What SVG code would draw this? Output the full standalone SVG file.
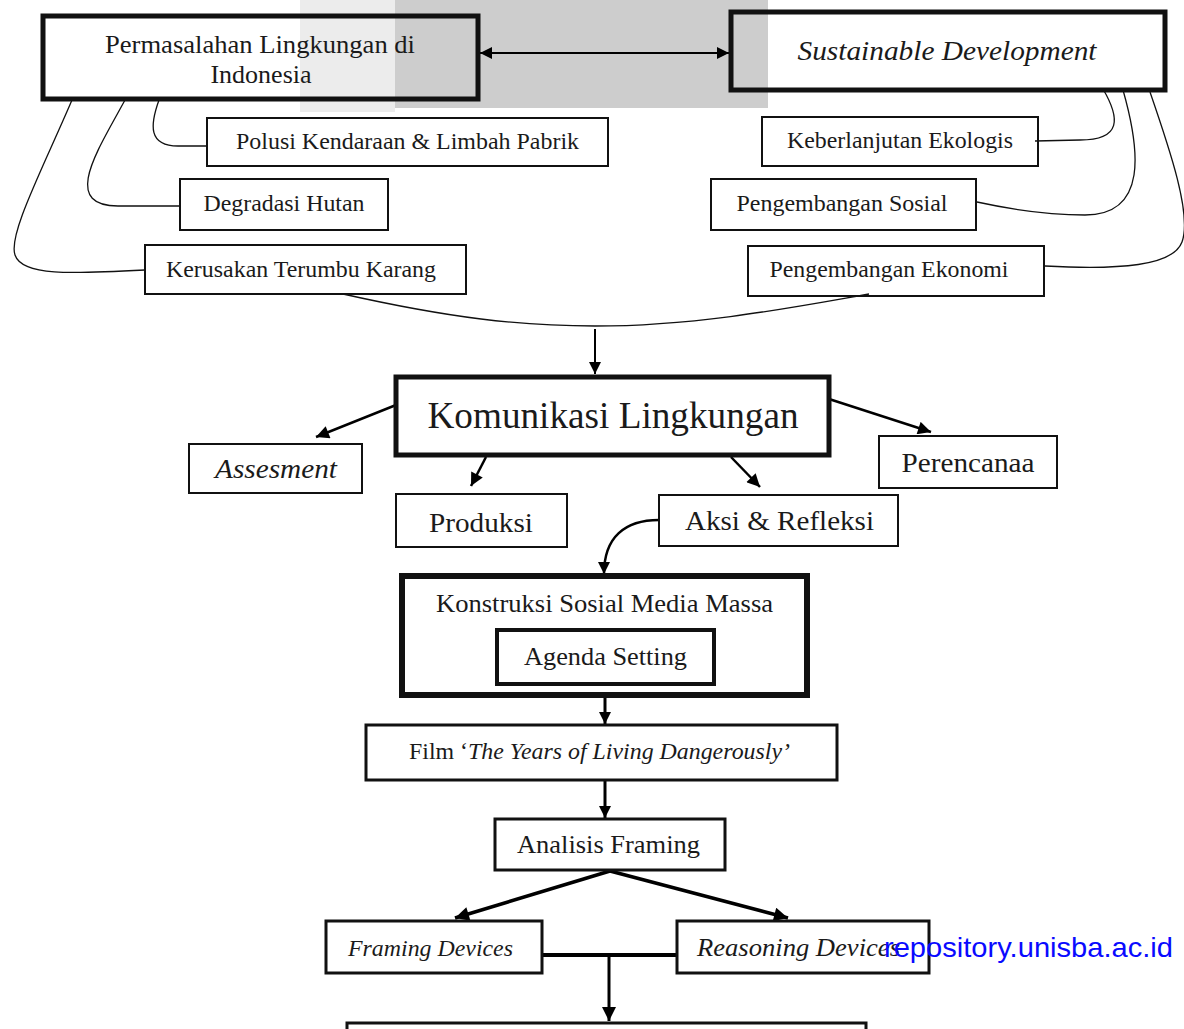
<svg xmlns="http://www.w3.org/2000/svg" width="1184" height="1029" viewBox="0 0 1184 1029">
<defs>
<style>
text{font-family:"Liberation Serif","Times New Roman",serif;fill:#1a1a1a}
.it{font-style:italic}
.box{fill:none;stroke:#111}
.b2{stroke-width:2}
.b3{stroke-width:3}
.b4{stroke-width:4}
.b5{stroke-width:5}
.b6{stroke-width:6}
.c{fill:none;stroke:#111;stroke-width:1.3}
.a{fill:none;stroke:#000}
.wm{font-family:"Liberation Sans",Arial,sans-serif;fill:#0a0aff}
</style>
<marker id="ah" viewBox="0 0 10 10" refX="10" refY="5" markerWidth="14" markerHeight="12" markerUnits="userSpaceOnUse" orient="auto-start-reverse">
<path d="M0,0 L10,5 L0,10 Z" fill="#000"/>
</marker>
<marker id="ahm" viewBox="0 0 10 10" refX="10" refY="5" markerWidth="15" markerHeight="13" markerUnits="userSpaceOnUse" orient="auto-start-reverse">
<path d="M0,0 L10,5 L0,10 Z" fill="#000"/>
</marker>
<marker id="ahb" viewBox="0 0 10 10" refX="10" refY="5" markerWidth="16" markerHeight="14" markerUnits="userSpaceOnUse" orient="auto-start-reverse">
<path d="M0,0 L10,5 L0,10 Z" fill="#000"/>
</marker>
</defs>
<rect x="0" y="0" width="1184" height="1029" fill="#ffffff"/>
<g id="watermark-bg">
<rect x="300" y="0" width="95" height="112" fill="#ececec"/>
<rect x="395" y="0" width="373" height="108" fill="#cdcdcd"/>
</g>

<g id="connectors">
<line class="a" x1="480" y1="53" x2="729" y2="53" stroke-width="2" marker-start="url(#ah)" marker-end="url(#ah)"/>
<path class="c" d="M159,100 C150,125 148,146 178,146 L207,146"/>
<path class="c" d="M125,100 C98,150 60,206 118,206 L180,206"/>
<path class="c" d="M72,100 C42,170 8,235 15,255 C22,276 70,274 145,270"/>
<path class="c" d="M1103,89 C1120,118 1122,140 1080,140 L1035,141"/>
<path class="c" d="M1123,90 C1140,150 1148,215 1085,215 C1040,215 1000,207 977,202"/>
<path class="c" d="M1150,92 C1170,150 1192,215 1182,242 C1173,266 1120,270 1045,266"/>
<path class="c" d="M343,294 C450,318 520,326 595,326 C700,326 800,306 869,294"/>
<line class="a" x1="595" y1="329" x2="595" y2="374" stroke-width="2" marker-end="url(#ah)"/>
<line class="a" x1="396" y1="405" x2="316" y2="437" stroke-width="2.5" marker-end="url(#ahm)"/>
<line class="a" x1="486" y1="457" x2="471" y2="486" stroke-width="2.5" marker-end="url(#ahm)"/>
<line class="a" x1="731" y1="457" x2="760" y2="487" stroke-width="2.5" marker-end="url(#ahm)"/>
<line class="a" x1="829" y1="399" x2="931" y2="432" stroke-width="2.5" marker-end="url(#ahm)"/>
<path class="a" d="M659,520 C625,520 604,537 604,574" stroke-width="2.5" marker-end="url(#ah)"/>
<line class="a" x1="605" y1="697" x2="605" y2="724" stroke-width="3" marker-end="url(#ah)"/>
<line class="a" x1="605" y1="781" x2="605" y2="818" stroke-width="3" marker-end="url(#ah)"/>
<line class="a" x1="610" y1="871" x2="455" y2="918" stroke-width="3.5" marker-end="url(#ahb)"/>
<line class="a" x1="610" y1="871" x2="788" y2="918" stroke-width="3.5" marker-end="url(#ahb)"/>
<line class="a" x1="543" y1="955" x2="676" y2="955" stroke-width="4"/>
<line class="a" x1="609" y1="955" x2="609" y2="1021" stroke-width="3" marker-end="url(#ahb)"/>
</g>

<g id="n-permasalahan">
<rect class="box b5" x="43" y="16" width="435" height="83"/>
<text x="260" y="53" font-size="26" text-anchor="middle" textLength="310" lengthAdjust="spacingAndGlyphs">Permasalahan Lingkungan di</text>
<text x="261" y="83" font-size="26" text-anchor="middle">Indonesia</text>
</g>
<g id="n-sustainable">
<rect class="box b5" x="731" y="12" width="434" height="78"/>
<text class="it" x="947" y="60" font-size="28" text-anchor="middle" textLength="299" lengthAdjust="spacingAndGlyphs">Sustainable Development</text>
</g>
<g id="n-polusi">
<rect class="box b2" x="207" y="118" width="401" height="48"/>
<text x="407.5" y="149" font-size="23" text-anchor="middle" textLength="343" lengthAdjust="spacingAndGlyphs">Polusi Kendaraan &amp; Limbah Pabrik</text>
</g>
<g id="n-degradasi">
<rect class="box b2" x="180" y="179" width="208" height="51"/>
<text x="284" y="211" font-size="23" text-anchor="middle" textLength="161" lengthAdjust="spacingAndGlyphs">Degradasi Hutan</text>
</g>
<g id="n-kerusakan">
<rect class="box b2" x="145" y="245" width="321" height="49"/>
<text x="301" y="277" font-size="23" text-anchor="middle" textLength="270" lengthAdjust="spacingAndGlyphs">Kerusakan Terumbu Karang</text>
</g>
<g id="n-keberlanjutan">
<rect class="box b2" x="762" y="117" width="276" height="49"/>
<text x="900" y="148" font-size="23" text-anchor="middle" textLength="226" lengthAdjust="spacingAndGlyphs">Keberlanjutan Ekologis</text>
</g>
<g id="n-sosial">
<rect class="box b2" x="711" y="179" width="265" height="51"/>
<text x="842" y="211" font-size="23" text-anchor="middle" textLength="211" lengthAdjust="spacingAndGlyphs">Pengembangan Sosial</text>
</g>
<g id="n-ekonomi">
<rect class="box b2" x="748" y="246" width="296" height="50"/>
<text x="889" y="277" font-size="23" text-anchor="middle" textLength="239" lengthAdjust="spacingAndGlyphs">Pengembangan Ekonomi</text>
</g>
<g id="n-komunikasi">
<rect class="box b5" x="396" y="377" width="433" height="78"/>
<text x="613" y="428" font-size="38" text-anchor="middle" textLength="371" lengthAdjust="spacingAndGlyphs">Komunikasi Lingkungan</text>
</g>
<g id="n-assesment">
<rect class="box b2" x="189" y="444" width="173" height="49"/>
<text class="it" x="276" y="478" font-size="27" text-anchor="middle" textLength="122" lengthAdjust="spacingAndGlyphs">Assesment</text>
</g>
<g id="n-produksi">
<rect class="box b2" x="396" y="494" width="171" height="53"/>
<text x="481" y="532" font-size="28" text-anchor="middle" textLength="104" lengthAdjust="spacingAndGlyphs">Produksi</text>
</g>
<g id="n-aksi">
<rect class="box b2" x="659" y="495" width="239" height="51"/>
<text x="779.5" y="530" font-size="28" text-anchor="middle" textLength="189" lengthAdjust="spacingAndGlyphs">Aksi &amp; Refleksi</text>
</g>
<g id="n-perencanaa">
<rect class="box b2" x="879" y="436" width="178" height="52"/>
<text x="968" y="472" font-size="28" text-anchor="middle" textLength="133" lengthAdjust="spacingAndGlyphs">Perencanaa</text>
</g>
<g id="n-konstruksi">
<rect class="box b6" x="402" y="576" width="405" height="119"/>
<text x="604.5" y="612" font-size="26" text-anchor="middle" textLength="337" lengthAdjust="spacingAndGlyphs">Konstruksi Sosial Media Massa</text>
</g>
<g id="n-agenda">
<rect class="box b4" x="497" y="630" width="217" height="54"/>
<text x="605.5" y="665" font-size="26" text-anchor="middle" textLength="163" lengthAdjust="spacingAndGlyphs">Agenda Setting</text>
</g>
<g id="n-film">
<rect class="box b3" x="366" y="725" width="471" height="55"/>
<text x="599.5" y="759" font-size="23" text-anchor="middle" textLength="381" lengthAdjust="spacingAndGlyphs">Film ‘<tspan class="it">The Years of Living Dangerously’</tspan></text>
</g>
<g id="n-analisis">
<rect class="box b3" x="495" y="819" width="230" height="51"/>
<text x="608.5" y="853" font-size="26" text-anchor="middle" textLength="183" lengthAdjust="spacingAndGlyphs">Analisis Framing</text>
</g>
<g id="n-framing">
<rect class="box b3" x="326" y="921" width="216" height="52"/>
<text class="it" x="430.5" y="956" font-size="24" text-anchor="middle" textLength="165" lengthAdjust="spacingAndGlyphs">Framing Devices</text>
</g>
<g id="n-reasoning">
<rect class="box b3" x="677" y="921" width="252" height="52"/>
<text class="it" x="697" y="956" font-size="25" textLength="203" lengthAdjust="spacingAndGlyphs">Reasoning Devices</text>
</g>
<g id="n-bottom">
<rect class="box b3" x="347" y="1023" width="519" height="30"/>
</g>
<text class="wm" x="884" y="957" font-size="28" textLength="289" lengthAdjust="spacingAndGlyphs">repository.unisba.ac.id</text>
</svg>
